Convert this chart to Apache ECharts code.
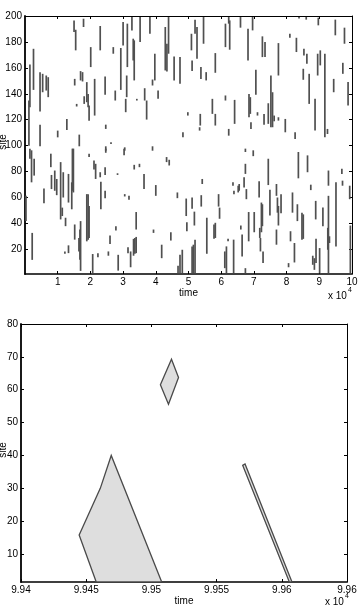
<!DOCTYPE html>
<html>
<head>
<meta charset="utf-8">
<script src="https://cdn.jsdelivr.net/npm/echarts@6/dist/echarts.min.js"></script>
<style>
  html, body { margin: 0; padding: 0; background: #fff; }
  #main { width: 361px; height: 609px; }
</style>
</head>
<body>
<div id="main"></div>
<script>
// top panel: [time (x10^4), site from, site to]
var spikes = [
  [0.15,129.6,162.6],[0.12,100.0,134.8],[0.26,143.0,174.7],[0.46,126.3,156.7],[0.46,99.5,116.2],
  [0.54,141.2,155.4],[0.65,142.5,154.1],[0.71,137.4,152.8],[1.00,106.4,111.6],[1.28,112.1,120.6],
  [1.50,187.6,196.6],[1.55,173.5,189.4],[1.52,146.4,151.5],[1.58,130.2,132.2],[1.66,99.5,108.5],
  [1.70,150.3,157.5],[1.76,149.5,156.7],[1.79,191.5,197.9],[1.81,132.2,138.1],[1.89,133.5,149.0],
  [1.93,129.6,139.9],[1.96,119.3,130.9],[2.01,160.6,176.0],[2.13,123.2,151.5],[2.30,173.5,192.3],
  [2.45,139.2,153.4],[2.47,112.9,116.2],[2.47,96.1,99.5],[2.63,101.3,102.6],[2.70,170.9,176.0],
  [2.76,134.8,142.5],[2.93,143.0,175.3],[3.00,177.3,195.4],[3.05,96.1,98.7],[3.08,125.8,136.1],
  [3.11,137.4,154.1],[3.13,160.6,194.1],[3.27,188.9,199.2],[3.31,165.7,182.5],[3.34,150.3,181.2],
  [3.42,134.8,136.1],[3.52,179.9,199.2],[3.66,134.8,144.3],[3.72,120.1,134.8],[3.82,186.3,199.2],
  [3.90,146.4,151.0],[3.90,96.1,99.5],[3.97,150.3,170.9],[4.07,136.1,142.5],[4.29,158.0,191.5],
  [4.34,157.2,178.6],[4.39,170.9,199.2],[4.56,150.3,168.8],
  [4.74,147.7,168.3],[4.83,106.4,110.3],[4.98,123.2,125.8],[5.09,173.5,186.3],[5.11,157.5,165.7],
  [5.20,186.3,197.2],[5.26,167.0,191.5],[5.36,115.5,124.5],[5.34,111.6,114.2],[5.38,151.5,160.6],
  [5.46,178.6,199.2],[5.54,150.3,156.7],[5.73,124.5,136.1],[5.82,156.2,171.4],[5.82,115.5,124.5],
  [6.13,176.0,194.1],[6.13,134.8,138.7],[6.23,194.1,199.2],[6.26,174.0,196.6],[6.23,107.7,112.9],
  [6.41,116.8,135.3],[6.59,191.0,199.2],[6.82,165.7,190.2],[6.85,121.9,139.9],[6.89,124.5,137.4],
  [6.91,112.9,118.0],[6.96,188.9,199.2],[7.06,139.2,158.5],[7.11,123.2,125.8],[7.26,168.3,184.3],
  [7.34,168.3,179.9],[7.31,116.2,124.5],[7.44,116.8,132.7],[7.52,114.2,154.1],[7.57,114.2,141.2],
  [7.62,118.8,123.2],[7.75,154.1,179.1],[7.75,119.3,121.9],[7.96,110.3,120.6],[8.10,183.2,186.3],
  [8.26,105.2,110.3],[8.30,172.2,183.2],[8.38,198.0,199.2],[8.51,150.8,159.3],[8.53,169.6,174.7],
  [8.60,197.2,199.2],[8.62,163.1,170.9],[8.69,132.2,155.4],[8.87,111.6,136.1],[8.95,154.1,170.9],
  [8.97,192.8,198.7],[9.03,161.9,173.5],[9.17,106.4,170.9],[9.25,109.0,112.9],[9.44,141.2,151.5],
  [9.49,185.1,197.2],[9.72,155.4,163.9],[9.77,178.6,191.0],[9.88,130.9,149.0],
  [0.03,41.8,61.3],[0.15,89.9,97.7],[0.20,71.7,96.4],[0.28,76.9,89.9],[0.22,11.9,32.7],
  [0.58,55.6,67.0],[0.79,83.4,93.8],[0.81,66.5,77.4],[0.91,65.2,80.8],[0.97,61.8,74.3],
  [1.09,43.1,87.3],[1.14,45.7,52.2],[1.17,60.0,79.5],[1.24,37.9,44.4],[1.22,16.6,18.4],
  [1.33,17.1,23.1],[1.33,56.1,78.2],[1.43,50.9,71.7],[1.45,65.2,97.7],[1.48,63.9,97.7],
  [1.52,27.5,39.2],[1.65,18.4,28.8],[1.68,11.9,35.3],[1.70,3.4,41.8],[1.89,26.2,62.6],
  [1.93,27.5,62.6],[1.96,28.8,53.5],[1.96,91.2,93.8],[2.07,1.6,16.4],[2.11,81.6,88.6],
  [2.16,74.3,86.0],[2.23,14.0,17.1],[2.30,75.6,79.5],[2.32,50.9,72.2],[2.45,77.4,83.4],
  [2.45,59.5,65.2],[2.47,94.5,97.7],[2.55,15.1,18.4],[2.60,24.2,30.6],[2.78,34.5,37.9],
  [2.83,77.4,78.7],[2.85,3.6,15.8],[3.03,92.5,97.7],[3.05,60.8,62.6],[3.18,58.2,61.3],
  [3.15,17.1,21.6],[3.23,6.2,18.4],[3.32,15.1,28.1],[3.36,16.6,28.8],[3.40,35.3,48.8],
  [3.40,17.1,29.6],[3.34,81.6,85.2],[3.50,83.4,86.0],[3.64,66.5,78.2],[3.93,32.7,35.3],
  [4.00,61.3,69.6],[4.18,13.2,23.6],[4.33,87.3,91.2],[4.41,84.7,89.1],[4.46,26.8,33.2],
  [4.66,59.5,63.9],[4.68,1.6,7.3],
  [4.74,1.6,15.8],[4.81,1.6,19.7],[4.93,45.7,59.2],[4.95,34.0,41.0],[5.11,1.6,22.3],
  [5.15,1.6,23.6],[5.20,1.6,27.5],[5.11,51.4,60.0],[5.18,38.4,49.1],[5.42,70.4,74.3],
  [5.39,53.0,61.8],[5.56,16.6,44.4],[5.78,28.1,39.2],[5.82,28.8,40.5],[5.92,53.0,62.6],
  [5.95,43.6,52.2],[6.11,5.5,18.4],[6.16,1.6,22.3],[6.21,26.2,28.1],[6.36,69.1,71.7],
  [6.39,62.6,65.2],[6.38,1.6,27.5],[6.52,63.9,69.1],[6.55,65.2,70.4],[6.60,35.3,38.4],
  [6.64,14.5,31.4],[6.70,67.8,75.6],[6.74,78.2,86.0],[6.74,95.1,97.7],[6.98,91.9,96.4],
  [6.77,58.7,66.5],[6.74,1.6,5.5],[6.84,26.2,48.8],[7.01,33.2,48.8],[7.16,60.0,72.5],
  [7.18,28.8,36.6],[7.20,18.4,28.8],[7.23,33.2,56.1],[7.26,37.9,54.8],[7.28,9.4,18.4],
  [7.44,69.6,89.9],[7.49,46.2,66.0],[7.69,61.3,70.4],[7.72,48.3,60.0],[7.75,38.4,53.5],
  [7.69,23.6,35.3],[7.83,47.8,62.6],[8.06,6.2,9.4],[8.12,26.2,34.0],[8.18,48.3,63.9],
  [8.24,9.9,24.9],[8.33,41.8,54.8],[8.36,74.8,95.1],[8.47,27.5,48.3],[8.51,28.1,47.0],
  [8.64,79.5,92.5],[8.74,65.7,69.9],[8.80,8.1,15.1],[8.85,4.2,13.2],[8.89,43.1,57.4],
  [8.90,9.4,28.1],[9.01,1.6,21.0],[9.11,37.9,52.2],[9.26,19.7,36.6],[9.28,1.6,61.3],
  [9.31,24.9,30.1],[9.28,69.1,80.8],[9.51,22.3,71.7],[9.69,78.2,82.1],[9.71,69.1,73.0],
  [9.93,58.7,69.1],[9.95,1.6,38.4]
];

// bottom panel patches: [time (x10^4), site]
var bigPatch = [[9.94577,1.5],[9.94446,15.8],[9.94608,30],[9.94692,40],[9.95079,1.5]];
var diamondPatch = [[9.95069,61.5],[9.95154,69.3],[9.95208,63.7],[9.95131,55.6]];
var thinPatch = [[9.95700,37.0],[9.95718,37.4],[9.96078,1.5],[9.96058,1.5]];
var patches = [bigPatch, diamondPatch, thinPatch];

var topXTicks = [1,2,3,4,5,6,7,8,9,10];
var topYTicks = [20,40,60,80,100,120,140,160,180,200];
var botXTicks = [9.94,9.945,9.95,9.955,9.96,9.965];
var botXLabels = ['9.94','9.945','9.95','9.955','9.96','9.96'];
var botYTicks = [10,20,30,40,50,60,70,80];

var font = 'Liberation Sans';
var myChart = echarts.init(document.getElementById('main'));

function axisBase(pos, min, max, ticks, showLabels, fmt) {
    var main = (pos === 'left' || pos === 'bottom');
    return {
        type: 'value', position: pos, min: min, max: max,
        splitLine: {show: false},
        axisLine: {show: true, onZero: false, lineStyle: {color: '#000', width: pos === 'left' ? 1.8 : (main ? 1.5 : 1)}},
        axisTick: {show: true, inside: true, length: 3, customValues: ticks, lineStyle: {color: '#000', width: 1}},
        axisLabel: {show: showLabels, customValues: ticks, margin: 3, color: '#000', fontSize: 10,
            fontFamily: font, formatter: fmt, showMaxLabel: true, showMinLabel: true, hideOverlap: false}
    };
}

var xTop = axisBase('bottom', 0, 10, topXTicks, true, function (v) { return String(Math.round(v)); });
xTop.gridIndex = 0;
xTop.name = 'time'; xTop.nameLocation = 'middle'; xTop.nameGap = 9;
xTop.nameTextStyle = {fontSize: 10, fontFamily: font, color: '#000', verticalAlign: 'top'};
var xTop2 = axisBase('top', 0, 10, topXTicks, false); xTop2.gridIndex = 0;

var yTop = axisBase('left', 1, 200, topYTicks, true, function (v) { return String(Math.round(v)); });
yTop.gridIndex = 0;
var yTop2 = axisBase('right', 1, 200, topYTicks, false); yTop2.gridIndex = 0;

var xBot = axisBase('bottom', 9.94, 9.965, botXTicks, true, function (v) {
    for (var i = 0; i < botXTicks.length; i++) {
        if (Math.abs(botXTicks[i] - v) < 1e-6) return botXLabels[i];
    }
    return '';
});
xBot.gridIndex = 1;
xBot.name = 'time'; xBot.nameLocation = 'middle'; xBot.nameGap = 10;
xBot.nameTextStyle = {fontSize: 10, fontFamily: font, color: '#000', verticalAlign: 'top'};
var xBot2 = axisBase('top', 9.94, 9.965, botXTicks, false); xBot2.gridIndex = 1;

var yBot = axisBase('left', 1.5, 80, botYTicks, true, function (v) { return String(Math.round(v)); });
yBot.gridIndex = 1;
var yBot2 = axisBase('right', 1.5, 80, botYTicks, false); yBot2.gridIndex = 1;

var option = {
    backgroundColor: '#fff',
    animation: false,
    grid: [
        {left: 25, top: 16, width: 327, height: 258},
        {left: 21, top: 324, width: 326, height: 258}
    ],
    xAxis: [xTop, xTop2, xBot, xBot2],
    yAxis: [yTop, yTop2, yBot, yBot2],
    graphic: [
        {type: 'text', x: 3, y: 142, rotation: Math.PI / 2,
            style: {text: 'site', fontSize: 10, fontFamily: font, fill: '#000', align: 'center', verticalAlign: 'middle'}},
        {type: 'text', x: 3, y: 450, rotation: Math.PI / 2,
            style: {text: 'site', fontSize: 10, fontFamily: font, fill: '#000', align: 'center', verticalAlign: 'middle'}},
        {type: 'text', left: 328, top: 291, style: {text: 'x 10', fontSize: 10, fontFamily: font, fill: '#000'}},
        {type: 'text', left: 348, top: 287, style: {text: '4', fontSize: 7, fontFamily: font, fill: '#000'}},
        {type: 'text', left: 325, top: 597, style: {text: 'x 10', fontSize: 10, fontFamily: font, fill: '#000'}},
        {type: 'text', left: 345, top: 593, style: {text: '4', fontSize: 7, fontFamily: font, fill: '#000'}}
    ],
    series: [
        {
            type: 'custom',
            xAxisIndex: 0, yAxisIndex: 0,
            clip: true,
            data: spikes,
            encode: {x: 0, y: [1, 2]},
            renderItem: function (params, api) {
                var p0 = api.coord([api.value(0), api.value(1)]);
                var p1 = api.coord([api.value(0), api.value(2)]);
                return {
                    type: 'line',
                    shape: {x1: p0[0], y1: p0[1], x2: p1[0], y2: p1[1]},
                    style: {stroke: '#505050', lineWidth: 1.7}
                };
            }
        },
        {
            type: 'custom',
            xAxisIndex: 2, yAxisIndex: 2,
            clip: true,
            data: [0, 1, 2],
            renderItem: function (params, api) {
                var pts = patches[params.dataIndex].map(function (p) { return api.coord(p); });
                return {
                    type: 'polygon',
                    shape: {points: pts},
                    style: {fill: '#dedede', stroke: '#4a4a4a', lineWidth: 1.3}
                };
            }
        }
    ]
};
myChart.setOption(option);
</script>
</body>
</html>
